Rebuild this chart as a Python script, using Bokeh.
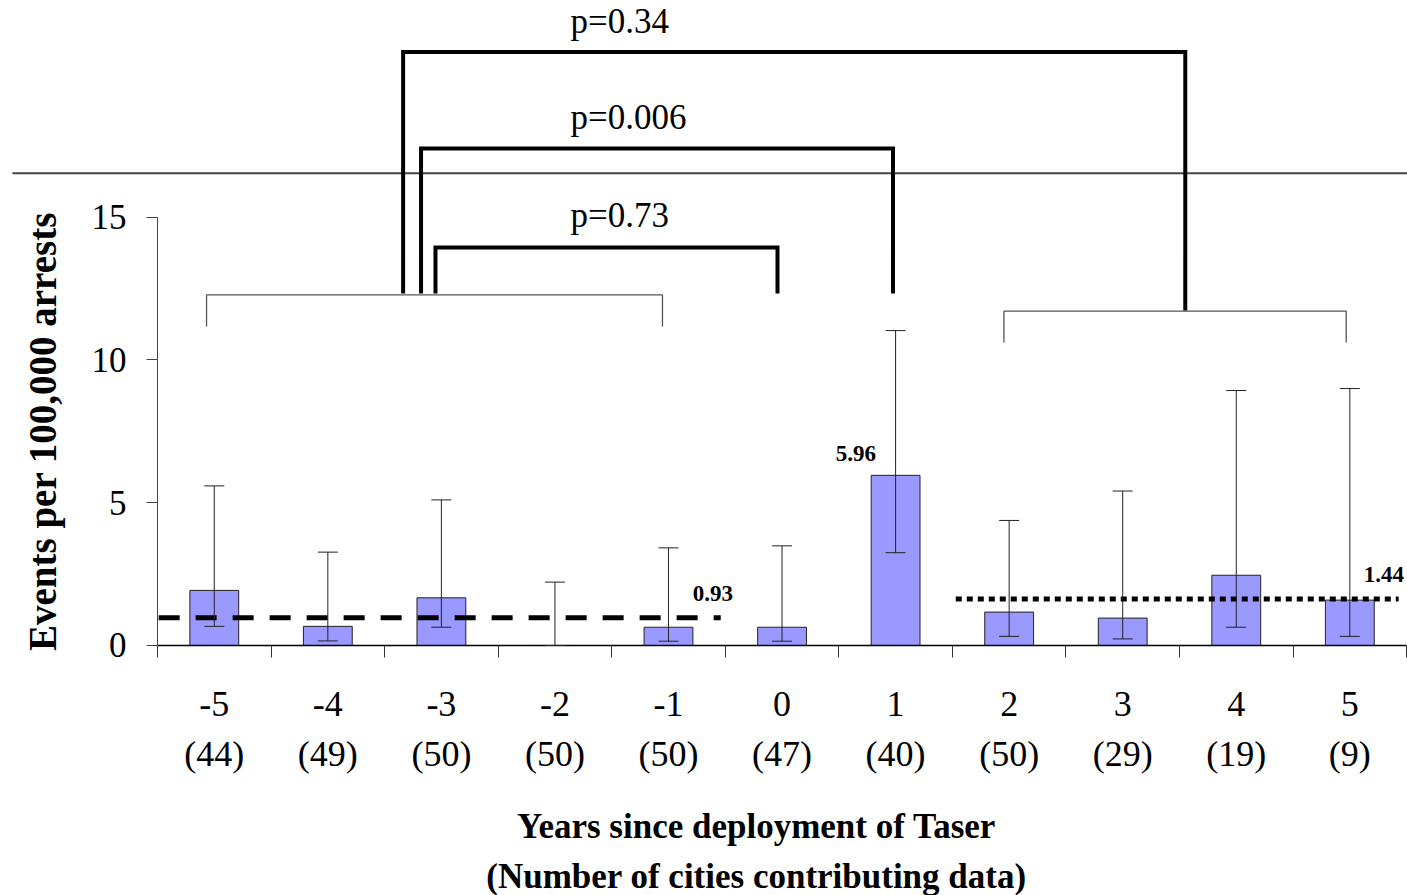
from bokeh.plotting import figure
from bokeh.models import Range1d, LinearAxis, FixedTicker, ColumnDataSource, Whisker, TeeHead
from bokeh.core.properties import value
from bokeh.embed import file_html
from bokeh.resources import INLINE

# ---------------- data ----------------
years = [-5, -4, -3, -2, -1, 0, 1, 2, 3, 4, 5]
n_cities = [44, 49, 50, 50, 50, 47, 40, 50, 29, 19, 9]
rate = [1.93, 0.67, 1.67, 0.0, 0.64, 0.64, 5.96, 1.17, 0.96, 2.46, 1.59]
ci_low = [0.67, 0.16, 0.64, 0.0, 0.15, 0.15, 3.25, 0.32, 0.23, 0.64, 0.32]
ci_high = [5.59, 3.27, 5.10, 2.22, 3.42, 3.49, 11.03, 4.38, 5.41, 8.93, 9.00]

pre_mean_label = "0.93"
pre_mean_level = 0.97
post_mean_label = "1.44"
post_mean_level = 1.63
peak_label = "5.96"

p_labels = ["p=0.34", "p=0.006", "p=0.73"]
y_ticks = [0, 5, 10, 15]

x_title = "Years since deployment of Taser"
x_title2 = "(Number of cities contributing data)"
y_title = "Events per 100,000 arrests"

idx = list(range(len(years)))
FONT = "Liberation Serif"

p = figure(width=1407, height=895,
           x_range=Range1d(-1.8826, 10.508), y_range=Range1d(-8.757, 22.592),
           x_axis_type=None, y_axis_type=None,
           toolbar_location=None, output_backend="svg",
           min_border=0, outline_line_color=None)
p.background_fill_color = "white"
p.border_fill_color = "white"

# ---------------- axes ----------------
yax = LinearAxis(fixed_location=-0.5, bounds=(0, 15),
                 ticker=FixedTicker(ticks=y_ticks, minor_ticks=[]),
                 axis_label=y_title,
                 axis_label_text_font=FONT, axis_label_text_font_style="bold",
                 axis_label_text_font_size="39px", axis_label_standoff=25,
                 axis_label_text_color="black",
                 major_label_text_font=FONT, major_label_text_font_size="35px",
                 major_label_text_color="black", major_label_standoff=20,
                 major_tick_out=11, major_tick_in=0, minor_tick_out=0, minor_tick_in=0,
                 axis_line_color="#444444", major_tick_line_color="#444444")
p.add_layout(yax, "left")

boundaries = [i - 0.5 for i in range(len(years) + 1)]
xa = LinearAxis(fixed_location=0, bounds=(-0.5, 10.5),
                ticker=FixedTicker(ticks=idx, minor_ticks=boundaries),
                major_label_overrides={i: str(y) for i, y in zip(idx, years)},
                major_label_text_font=FONT, major_label_text_font_size="36px",
                major_label_text_color="black", major_label_standoff=35,
                major_tick_out=0, major_tick_in=0, minor_tick_out=12, minor_tick_in=0,
                axis_line_color="black", axis_line_width=1.5,
                minor_tick_line_color="#333333", major_tick_line_color=None)
p.add_layout(xa, "below")

xb = LinearAxis(fixed_location=0, bounds=(-0.5, 10.05),
                ticker=FixedTicker(ticks=idx, minor_ticks=[]),
                major_label_overrides={i: "(%d)" % n for i, n in zip(idx, n_cities)},
                major_label_text_font=FONT, major_label_text_font_size="36px",
                major_label_text_color="black", major_label_standoff=89,
                major_tick_out=0, major_tick_in=0, minor_tick_out=0, minor_tick_in=0,
                axis_line_color=None, major_tick_line_color=None, minor_tick_line_color=None,
                axis_label=x_title, axis_label_text_font=FONT,
                axis_label_text_font_style="bold", axis_label_text_font_size="35px",
                axis_label_text_color="black", axis_label_standoff=29)
p.add_layout(xb, "below")

xc = LinearAxis(fixed_location=0, bounds=(-0.5, 10.05),
                ticker=FixedTicker(ticks=[], minor_ticks=[]),
                major_tick_out=0, major_tick_in=0, minor_tick_out=0, minor_tick_in=0,
                axis_line_color=None, major_tick_line_color=None, minor_tick_line_color=None,
                axis_label=x_title2, axis_label_text_font=FONT,
                axis_label_text_font_style="bold", axis_label_text_font_size="35px",
                axis_label_text_color="black", axis_label_standoff=211)
p.add_layout(xc, "below")

# ---------------- bars + error bars ----------------
src = ColumnDataSource(dict(x=idx, top=rate, lo=ci_low, hi=ci_high))
p.vbar(x="x", top="top", bottom=0, width=0.43, source=src,
       fill_color="#9999FF", line_color="#222222", line_width=1)

w = Whisker(source=src, base="x", upper="hi", lower="lo", dimension="height",
            line_color="#222222", line_width=1,
            upper_head=TeeHead(size=20, line_color="#222222", line_width=1),
            lower_head=TeeHead(size=20, line_color="#222222", line_width=1),
            level="annotation")
p.add_layout(w)

# ---------------- mean lines ----------------
p.line(x=[-0.49, 4.46], y=[pre_mean_level, pre_mean_level],
       line_color="black", line_width=5, line_dash="21 16")
p.line(x=[6.53, 10.43], y=[post_mean_level, post_mean_level],
       line_color="black", line_width=5, line_dash="6 5")

p.text(x=[4.39, 10.30, 5.65], y=[1.82, 2.49, 6.72],
       text=[pre_mean_label, post_mean_label, peak_label],
       text_font=value(FONT), text_font_style="bold", text_font_size="23px",
       text_align="center", text_baseline="middle", text_color="black")

# ---------------- comparison brackets ----------------
# horizontal rule
p.line(x=[-1.778, 10.51], y=[16.54, 16.54], line_color="#444444", line_width=2)

# thin group brackets
p.multi_line(xs=[[-0.068, -0.068, 3.947, 3.947], [6.954, 6.954, 9.968, 9.968]],
             ys=[[11.17, 12.28, 12.28, 11.17], [10.61, 11.71, 11.71, 10.61]],
             line_color="#555555", line_width=1.3)

# thick p-value brackets
p.multi_line(xs=[[1.663, 1.663, 8.551, 8.551],
                 [1.821, 1.821, 5.977, 5.977],
                 [1.948, 1.948, 4.960, 4.960]],
             ys=[[12.33, 20.79, 20.79, 11.73],
                 [12.33, 17.41, 17.41, 12.33],
                 [12.33, 13.94, 13.94, 12.33]],
             line_color="black", line_width=4, line_join="miter")

p.text(x=[3.137, 3.137, 3.137], y=[21.85, 18.48, 15.06], text=p_labels,
       text_font=value(FONT), text_font_size="35px",
       text_align="left", text_baseline="alphabetic", text_color="black")

open("out.html", "w").write(file_html(p, INLINE))
